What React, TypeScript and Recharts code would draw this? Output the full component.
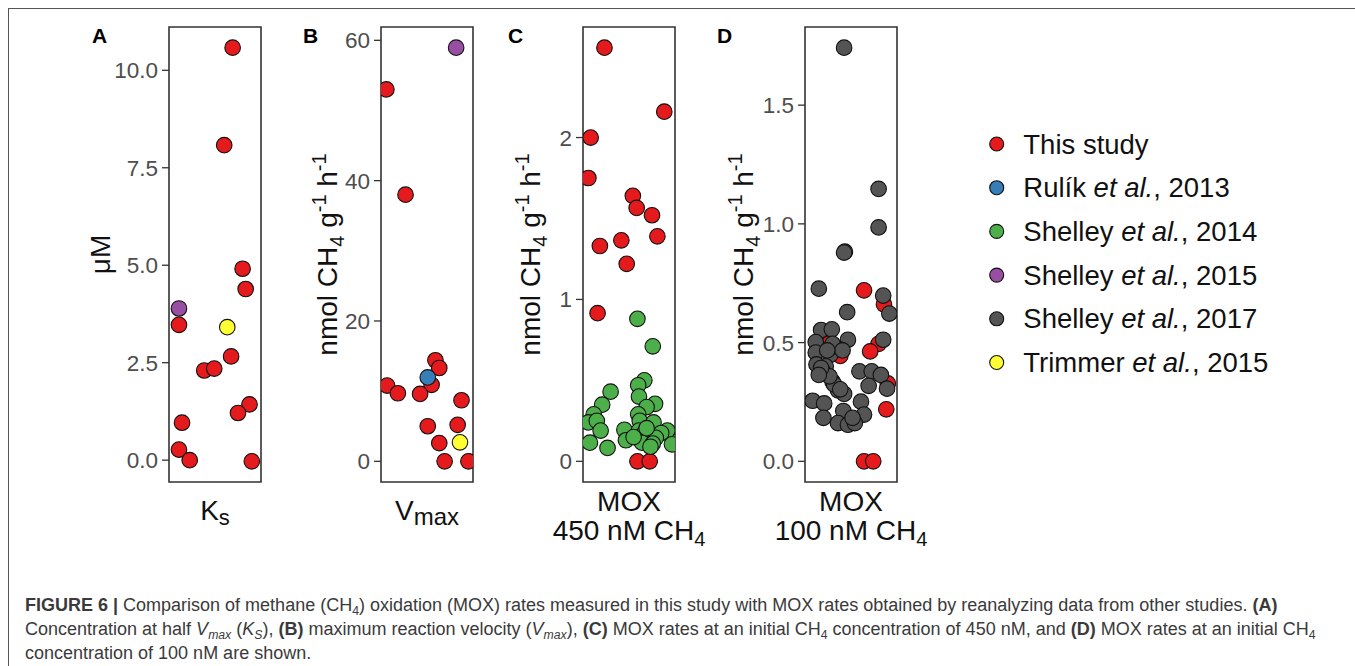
import React from 'react';
import { ScatterChart, Scatter, XAxis, YAxis, ReferenceArea } from 'recharts';

const FONT = '"Liberation Sans", Arial, Helvetica, sans-serif';

// studies (legend order = draw order)
const studyAuthors = ['This study', 'Rulík', 'Shelley', 'Shelley', 'Shelley', 'Trimmer'];
const studyYears = ['', '2013', '2014', '2015', '2017', '2015'];
const studyColors = ['#E41A1C', '#377EB8', '#4DAF4A', '#984EA3', '#545454', '#FFFF33'];

// A: Ks (µM) — value and horizontal jitter
const ksThisStudy = [10.58, 8.08, 4.91, 4.39, 3.47, 2.66, 2.3, 2.35, 1.43, 1.21, 0.96, 0.27, 0.0, -0.03];
const ksThisStudyJit = [0.23, 0.12, 0.36, 0.4, -0.47, 0.21, -0.14, -0.01, 0.45, 0.3, -0.43, -0.47, -0.33, 0.48];
const ksShelley2015 = [3.89];
const ksShelley2015Jit = [-0.47];
const ksTrimmer = [3.41];
const ksTrimmerJit = [0.16];

// B: Vmax
const vmaxThisStudy = [53.0, 38.0, 14.4, 13.3, 10.9, 10.8, 9.7, 9.6, 8.7, 5.0, 5.2, 2.6, 0, 0];
const vmaxThisStudyJit = [-0.53, -0.28, 0.11, 0.16, 0.06, -0.52, -0.38, -0.09, 0.45, 0.01, 0.4, 0.16, 0.23, 0.54];
const vmaxRulik = [11.95];
const vmaxRulikJit = [0.01];
const vmaxShelley2015 = [58.95];
const vmaxShelley2015Jit = [0.38];
const vmaxTrimmer = [2.7];
const vmaxTrimmerJit = [0.43];

// C: MOX at 450 nM CH4
const mox450ThisStudy = [2.555, 2.16, 2.0, 1.75, 1.64, 1.565, 1.52, 1.39, 1.33, 1.365, 1.22, 0.915, 0, 0];
const mox450ThisStudyJit = [-0.32, 0.46, -0.5, -0.53, 0.05, 0.1, 0.3, 0.37, -0.38, -0.1, -0.03, -0.41, 0.11, 0.27];
const mox450Shelley2014 = [0.88, 0.71, 0.5, 0.47, 0.43, 0.4, 0.35, 0.355, 0.29, 0.335, 0.29, 0.24, 0.25, 0.25, 0.24, 0.19,
  0.195, 0.19, 0.19, 0.175, 0.175, 0.145, 0.115, 0.13, 0.115, 0.11, 0.105, 0.083, 0.09, 0.15, 0.205];
const mox450Shelley2014Jit = [0.11, 0.31, 0.2, 0.12, -0.24, 0.13, -0.35, 0.34, -0.46, 0.23, 0.12, -0.53, -0.42, 0.14, 0.32, -0.37,
  -0.06, 0.5, 0.13, 0.2, 0.42, 0.35, -0.51, -0.04, 0.17, 0.31, 0.56, -0.28, 0.28, 0.06, 0.23];

// D: MOX at 100 nM CH4
const mox100ThisStudy = [0.72, 0.661, 0.495, 0.463, 0.495, 0.328, 0.219, 0, 0, 0.444];
const mox100ThisStudyJit = [0.17, 0.43, 0.36, 0.25, -0.29, 0.48, 0.46, 0.17, 0.29, -0.14];
const mox100Shelley2017 = [1.742, 1.147, 0.985, 0.883, 0.879, 0.727, 0.698, 0.628, 0.622, 0.553, 0.556, 0.502, 0.512, 0.512,
  0.473, 0.458, 0.448, 0.408, 0.4, 0.376, 0.379, 0.379, 0.364, 0.335, 0.318, 0.306, 0.299, 0.284, 0.255, 0.251, 0.244, 0.212,
  0.197, 0.183, 0.161, 0.154, 0.161, 0.183, 0.324, 0.303, 0.358, 0.393, 0.495, 0.467, 0.467, 0.364];
const mox100Shelley2017Jit = [-0.09, 0.36, 0.36, -0.08, -0.09, -0.42, 0.42, -0.05, 0.5, -0.39, -0.25, -0.46, -0.04, 0.42,
  -0.16, -0.46, -0.27, -0.45, -0.33, -0.36, 0.11, 0.27, 0.39, -0.24, 0.23, 0.47, -0.17, -0.09, -0.5, 0.13, -0.35, -0.1,
  0.17, -0.36, -0.17, -0.04, 0.05, 0.02, -0.22, -0.14, -0.28, -0.39, -0.24, -0.11, -0.31, -0.42];

const ksTicks = [0, 2.5, 5, 7.5, 10];
const vmaxTicks = [0, 20, 40, 60];
const mox450Ticks = [0, 1, 2];
const mox100Ticks = [0, 0.5, 1, 1.5];

const BOX_TOP = 27;
const BOX_BOTTOM = 482;
const BOX_W = 92;
const AXIS_W = 100;
const RIGHT_PAD = 50;
const X_AXIS_H = 70;
const CHART_H = 560;

const pts = (vals: number[], jit: number[]) => vals.map((y, i) => ({ x: jit[i], y }));

// ggplot-like 5% expansion
const expand = (groups: number[][]): [number, number] => {
  const all = groups.flat();
  const lo = Math.min(...all);
  const hi = Math.max(...all);
  const pad = (hi - lo) * 0.05;
  return [lo - pad, hi + pad];
};

const dot = (fill: string) => (p: any) =>
  <circle cx={p.cx} cy={p.cy} r={7.8} fill={fill} stroke="#111" strokeWidth={1.1} />;

const subSize = 20;

const YTitle = (kind: 'uM' | 'rate', gap: number) => (props: any) => {
  const vb = props.viewBox || { x: 0, y: 0, width: 0, height: 0 };
  const x = vb.x + vb.width - gap;
  const y = vb.y + vb.height / 2;
  return (
    <text transform={`translate(${x},${y}) rotate(-90)`} textAnchor="middle" fontSize={28} fontFamily={FONT} fill="#111">
      {kind === 'uM' ? 'μM' : (
        <>
          {'nmol CH'}
          <tspan fontSize={subSize} dy={7}>4</tspan>
          <tspan dy={-7}>{' g'}</tspan>
          <tspan fontSize={subSize} dy={-11}>-1</tspan>
          <tspan dy={11}>{' h'}</tspan>
          <tspan fontSize={subSize} dy={-11}>-1</tspan>
        </>
      )}
    </text>
  );
};

const XTitle = (kind: 'ks' | 'vmax' | 'mox450' | 'mox100') => (props: any) => {
  const vb = props.viewBox || { x: 0, y: 0, width: 0, height: 0 };
  const cx = vb.x + vb.width / 2;
  const y0 = vb.y;
  const common = { textAnchor: 'middle' as const, fontSize: 28, fontFamily: FONT, fill: '#111' };
  if (kind === 'ks') {
    return (
      <text x={cx} y={y0 + 38} {...common}>
        K<tspan fontSize={22} dy={5}>s</tspan>
      </text>
    );
  }
  if (kind === 'vmax') {
    return (
      <text x={cx} y={y0 + 38} {...common}>
        V<tspan fontSize={24} dy={5}>max</tspan>
      </text>
    );
  }
  return (
    <g>
      <text x={cx} y={y0 + 29} {...common}>MOX</text>
      <text x={cx} y={y0 + 58} {...common}>
        {kind === 'mox450' ? '450 nM CH' : '100 nM CH'}
        <tspan fontSize={subSize} dy={6}>4</tspan>
      </text>
    </g>
  );
};

type Series = { study: number; data: { x: number; y: number }[] };

function Panel(props: {
  boxLeft: number; letter: string; letterLeft: number; ticks: number[]; decimals: number;
  series: Series[]; yTitle: any; xTitle: any;
}) {
  const { boxLeft, letter, letterLeft, ticks, decimals, series, yTitle, xTitle } = props;
  const domain = expand(series.map((s) => s.data.map((d) => d.y)));
  return (
    <>
      <div style={{ position: 'absolute', left: letterLeft, top: 24, fontFamily: FONT, fontWeight: 'bold', fontSize: 21, color: '#000' }}>
        {letter}
      </div>
      <div style={{ position: 'absolute', left: boxLeft - AXIS_W, top: 0 }}>
        <ScatterChart
          width={AXIS_W + BOX_W + RIGHT_PAD}
          height={CHART_H}
          margin={{ top: BOX_TOP, right: RIGHT_PAD, bottom: CHART_H - BOX_BOTTOM - X_AXIS_H, left: 0 }}
        >
          <XAxis type="number" dataKey="x" domain={[-0.6, 0.6]} allowDataOverflow tick={false} tickLine={false}
            axisLine={false} height={X_AXIS_H} label={{ content: xTitle }} />
          <YAxis type="number" dataKey="y" domain={domain} allowDataOverflow ticks={ticks} interval={0} width={AXIS_W}
            tickSize={7} tickMargin={4} axisLine={false} tickLine={{ stroke: '#333', strokeWidth: 1.3 }}
            tick={{ fill: '#4d4d4d', fontSize: 22.5, fontFamily: FONT }}
            tickFormatter={(v: number) => v.toFixed(decimals)} label={{ content: yTitle }} />
          <ReferenceArea x1={-0.6} x2={0.6} y1={domain[0]} y2={domain[1]} fill="none" fillOpacity={0}
            stroke="#333" strokeWidth={1.6} ifOverflow="visible" />
          {series.map((s, i) => (
            <Scatter key={i} data={s.data} dataKey="y" fill={studyColors[s.study]} shape={dot(studyColors[s.study])}
              isAnimationActive={false} />
          ))}
        </ScatterChart>
      </div>
    </>
  );
}

function LegendBox() {
  return (
    <svg width={330} height={270} style={{ position: 'absolute', left: 970, top: 120 }}>
      {studyAuthors.map((a, i) => {
        const cy = 24 + i * 43.7;
        return (
          <g key={i}>
            <circle cx={26.7} cy={cy} r={7} fill={studyColors[i]} stroke="#111" strokeWidth={1.1} />
            <text x={53.3} y={cy + 9.5} fontSize={27.5} fontFamily={FONT} fill="#111">
              {studyYears[i] ? (
                <>
                  {a + ' '}
                  <tspan fontStyle="italic">et al.</tspan>
                  {', ' + studyYears[i]}
                </>
              ) : a}
            </text>
          </g>
        );
      })}
    </svg>
  );
}

const subStyle: React.CSSProperties = { fontSize: '0.68em', verticalAlign: '-0.32em', lineHeight: 0 };

export default function App() {
  return (
    <div style={{ position: 'absolute', left: 0, top: 0, width: 1355, height: 666, background: '#fff', overflow: 'hidden' }}>
      <div style={{ position: 'absolute', left: 8, top: 8, width: 1400, height: 700, borderTop: '1.5px solid #555', borderLeft: '1px solid #555' }} />
      <Panel boxLeft={169} letter="A" letterLeft={92} ticks={ksTicks} decimals={1} yTitle={YTitle('uM', 59)} xTitle={XTitle('ks')}
        series={[
          { study: 0, data: pts(ksThisStudy, ksThisStudyJit) },
          { study: 3, data: pts(ksShelley2015, ksShelley2015Jit) },
          { study: 5, data: pts(ksTrimmer, ksTrimmerJit) },
        ]} />
      <Panel boxLeft={381} letter="B" letterLeft={303} ticks={vmaxTicks} decimals={0} yTitle={YTitle('rate', 44)} xTitle={XTitle('vmax')}
        series={[
          { study: 0, data: pts(vmaxThisStudy, vmaxThisStudyJit) },
          { study: 1, data: pts(vmaxRulik, vmaxRulikJit) },
          { study: 3, data: pts(vmaxShelley2015, vmaxShelley2015Jit) },
          { study: 5, data: pts(vmaxTrimmer, vmaxTrimmerJit) },
        ]} />
      <Panel boxLeft={583} letter="C" letterLeft={508} ticks={mox450Ticks} decimals={0} yTitle={YTitle('rate', 43)} xTitle={XTitle('mox450')}
        series={[
          { study: 0, data: pts(mox450ThisStudy, mox450ThisStudyJit) },
          { study: 2, data: pts(mox450Shelley2014, mox450Shelley2014Jit) },
        ]} />
      <Panel boxLeft={805} letter="D" letterLeft={717} ticks={mox100Ticks} decimals={1} yTitle={YTitle('rate', 52)} xTitle={XTitle('mox100')}
        series={[
          { study: 0, data: pts(mox100ThisStudy, mox100ThisStudyJit) },
          { study: 4, data: pts(mox100Shelley2017, mox100Shelley2017Jit) },
        ]} />
      <LegendBox />
      <div style={{ position: 'absolute', left: 25, top: 593, fontFamily: FONT, fontSize: 18, lineHeight: '24px', color: '#3a3a3a', whiteSpace: 'nowrap' }}>
        <b>FIGURE 6 |</b> Comparison of methane (CH<sub style={subStyle}>4</sub>) oxidation (MOX) rates measured in this study with MOX rates obtained by reanalyzing data from other studies. <b>(A)</b>
        <br />
        Concentration at half <i>V<sub style={subStyle}>max</sub></i> (<i>K<sub style={subStyle}>S</sub></i>), <b>(B)</b> maximum reaction velocity (<i>V<sub style={subStyle}>max</sub></i>), <b>(C)</b> MOX rates at an initial CH<sub style={subStyle}>4</sub> concentration of 450 nM, and <b>(D)</b> MOX rates at an initial CH<sub style={subStyle}>4</sub>
        <br />
        concentration of 100 nM are shown.
      </div>
    </div>
  );
}
